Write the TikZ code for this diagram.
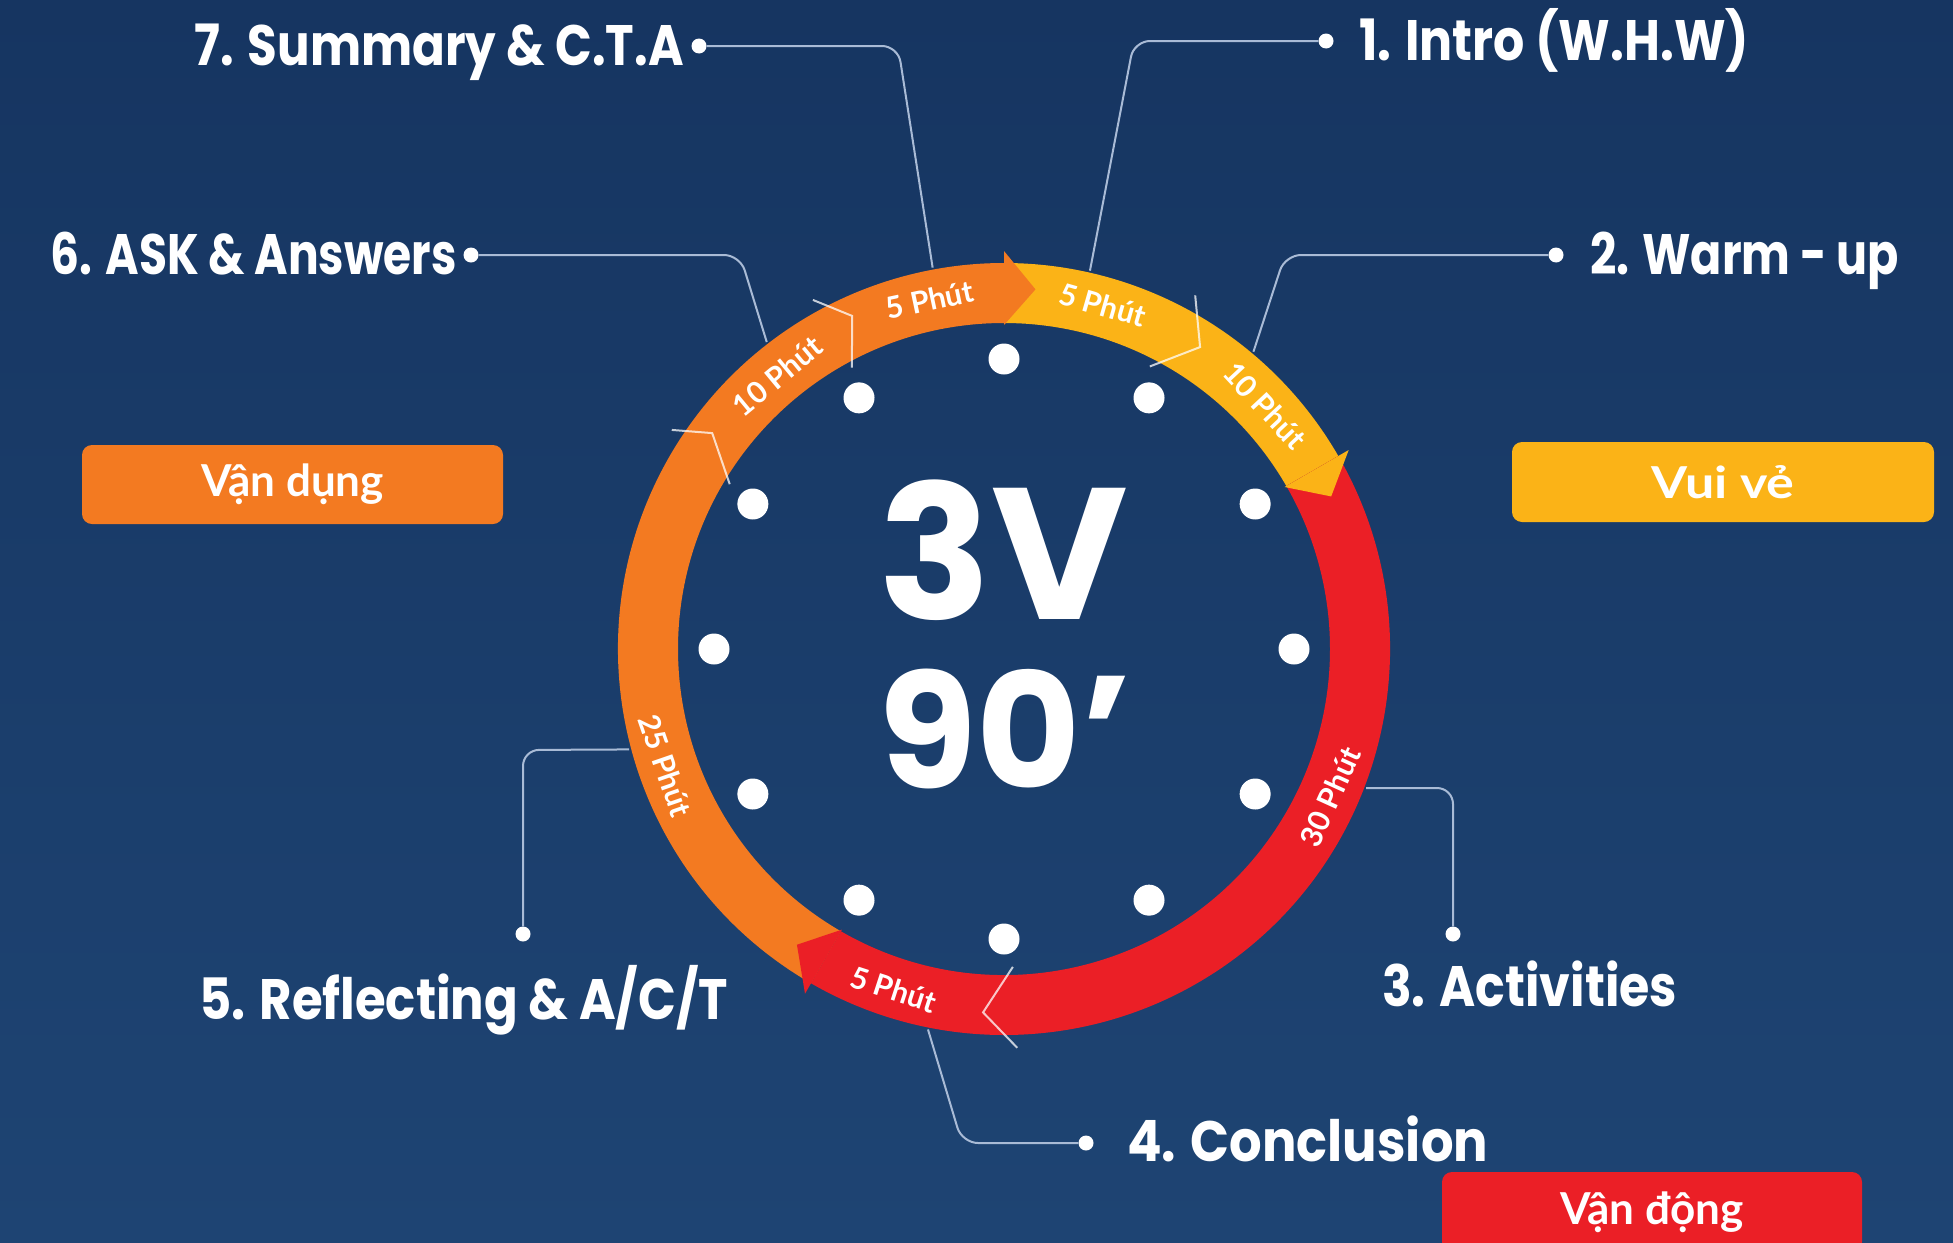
\documentclass[tikz,border=0pt]{standalone}
\usepackage{fontspec}
\usepackage{graphicx}
\setmainfont{Lato}
\newfontfamily\popfont{Poppins}
\usetikzlibrary{calc}
\definecolor{bgtop}{HTML}{163561}
\definecolor{bgbot}{HTML}{1E4473}
\definecolor{ora}{HTML}{F37A21}
\definecolor{yel}{HTML}{FBB317}
\definecolor{rd}{HTML}{EB1F26}
\definecolor{lead}{HTML}{A9BBD6}
\newcommand{\ringband}[3]{\fill[#1] (#2:386) arc[start angle=#2, end angle=#3, radius=386] -- (#3:326) arc[start angle=#3, end angle=#2, radius=326] -- cycle;}
\newcommand{\ringtip}[2]{\fill[#1] (#2:324) -- (#2:398) -- ({#2-5}:361) -- cycle;}
\newcommand{\fitw}[2]{\resizebox{#1}{\height}{#2}}
\begin{document}
\begin{tikzpicture}[x=1pt,y=1pt,
  leader/.style={draw=lead, line width=2pt, rounded corners=16pt},
  enddot/.style={circle, fill=white, inner sep=0pt, minimum size=15pt},
  lbl/.style={text=white, inner sep=0pt, font=\popfont\bfseries\fontsize{57}{60}\selectfont},
  phut/.style={text=white, inner sep=0pt, font=\bfseries\fontsize{30}{32}\selectfont},
  tag/.style={rounded corners=10pt, text=white, inner sep=0pt, font=\bfseries\fontsize{44}{48}\selectfont},
  chev/.style={draw=white, draw opacity=0.75, line width=2pt},
  clockdot/.style={circle, fill=white, inner sep=0pt, minimum size=31pt},
  big/.style={text=white, inner sep=0pt, font=\popfont\bfseries\fontsize{#1}{#1}\selectfont},
]
\useasboundingbox (0,0) rectangle (1953,-1242);
\shade[top color=bgtop, bottom color=bgbot] (0,0) rectangle (1953,-1242);

\coordinate (C) at (1004,-649);
% ring anchor points of the leaders
\coordinate (r7) at ($(C)+(100.6:388)$);
\coordinate (r6) at ($(C)+(127.7:388)$);
\coordinate (r1) at ($(C)+(77.2:388)$);
\coordinate (r2) at ($(C)+(50:388)$);
\coordinate (r3) at ($(C)+(-21:388)$);
\coordinate (r4) at ($(C)+(-101.3:388)$);
\coordinate (r5) at ($(C)+(195:388)$);

% leader end dots
\node[enddot] (d7) at (699,-46) {};
\node[enddot] (d6) at (471,-255) {};
\node[enddot] (d1) at (1326,-41) {};
\node[enddot] (d2) at (1556,-255) {};
\node[enddot] (d3) at (1453,-934) {};
\node[enddot] (d4) at (1086,-1143) {};
\node[enddot] (d5) at (523,-934) {};

% leaders
\draw[leader] (d7) -- (898,-46) -- (r7);
\draw[leader] (d6) -- (740,-255) -- (r6);
\draw[leader] (d1) -- (1134,-41) -- (r1);
\draw[leader] (d2) -- (1285,-255) -- (r2);
\draw[leader] (d3) -- (1453,-788) -- (r3);
\draw[leader] (d4) -- (962,-1143) -- (r4);
\draw[leader] (d5) -- (523,-750) -- (r5);

% labels
\node[lbl, anchor=base east] (t7) at (684,-65) {\fitw{489pt}{7. Summary \& C.T.A}};
\node[lbl, anchor=base east] (t6) at (457,-274) {\fitw{406pt}{6. ASK \& Answers}};
\node[lbl, anchor=base west] (t1) at (1359,-60) {\fitw{390pt}{1. Intro (W.H.W)}};
\node[lbl, anchor=base west] (t2) at (1590,-274) {\fitw{309pt}{2. Warm - up}};
\node[lbl, anchor=base west] (t3) at (1382,-1006) {\fitw{295pt}{3. Activities}};
\node[lbl, anchor=base west] (t4) at (1127,-1161) {\fitw{361pt}{4. Conclusion}};
\node[lbl, anchor=base west] (t5) at (199,-1019) {\fitw{529pt}{5. Reflecting \& A/C/T}};

% boxes
\node[tag, fill=ora, minimum width=421pt, minimum height=79pt] (bvd) at (292.5,-484.5) {Vận dụng};
\node[tag, fill=yel, minimum width=422pt, minimum height=80pt] (bvv) at (1723,-482) {\fitw{143pt}{Vui vẻ}};
\node[tag, fill=rd, minimum width=420pt, minimum height=80pt] (bvdg) at (1652,-1212) {Vận động};

% ring
\begin{scope}[shift={(C)}]
  \ringband{ora}{240}{90}
  \ringband{yel}{90}{30}
  \ringband{rd}{30}{-120}
  \ringtip{ora}{90}
  \ringtip{yel}{30}
  \ringtip{rd}{-120}
  % separators
  \draw[chev] (118.7:398) -- (114.5:366) -- (118.4:320);
  \draw[chev] (146.6:398) -- (143.5:363) -- (149:320);
  \draw[chev] (61.6:402) -- (57:360) -- (62.7:318);
  \draw[chev] (-88.1:399) -- (-93.3:364) -- (-88.4:318);
  % clock dots
  \foreach \a in {0,30,...,330} \node[clockdot] (cd\a) at (\a:290) {};
  % band labels
  \node[phut, rotate=12] (p7) at (102:357) {5 Phút};
  \node[phut, rotate=-16] (p1) at (74:358) {5 Phút};
  \node[phut, rotate=-47] (p2) at (43:357) {10 Phút};
  \node[phut, rotate=65.6] (p3) at (-24.4:358) {30 Phút};
  \node[phut, rotate=-18] (p4) at (-108:358) {5 Phút};
  \node[phut, rotate=-71] (p5) at (199:358) {25 Phút};
  \node[phut, rotate=39.7] (p6) at (129.7:355) {10 Phút};
  % centre
  \node[big=187, anchor=base] (v3) at (-1,30) {3V};
  \node[big=160, anchor=base] (v90) at (1,-139) {90’};
\end{scope}
\end{tikzpicture}
\end{document}
